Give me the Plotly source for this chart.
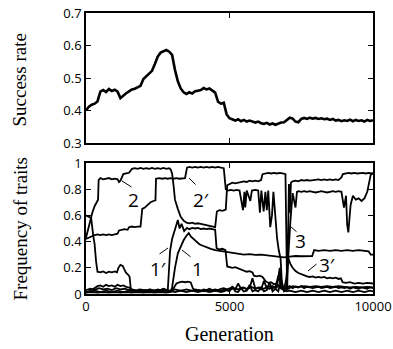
import plotly.graph_objects as go
from plotly.subplots import make_subplots

# ---------------- data ----------------
gen_grid = list(range(0, 10001, 100))

success_rate = [
    0.400, 0.412, 0.418, 0.421, 0.428, 0.458, 0.463, 0.457, 0.466, 0.460,
    0.464, 0.458, 0.438, 0.447, 0.453, 0.459, 0.465, 0.467, 0.471, 0.476,
    0.497, 0.505, 0.511, 0.522, 0.543, 0.566, 0.578, 0.583, 0.586, 0.581,
    0.571, 0.525, 0.490, 0.468, 0.456, 0.451, 0.456, 0.452, 0.459, 0.461,
    0.463, 0.469, 0.465, 0.468, 0.462, 0.455, 0.427, 0.421, 0.424, 0.388,
    0.376, 0.372, 0.369, 0.373, 0.367, 0.371, 0.366, 0.369, 0.365, 0.363,
    0.366, 0.361, 0.359, 0.362, 0.357, 0.360, 0.356, 0.360, 0.363, 0.364,
    0.372, 0.378, 0.375, 0.366, 0.364, 0.374, 0.377, 0.374, 0.378, 0.375,
    0.377, 0.374, 0.376, 0.373, 0.375, 0.371, 0.374, 0.369, 0.371, 0.367,
    0.370, 0.368, 0.372, 0.367, 0.371, 0.368, 0.370, 0.366, 0.371, 0.368,
    0.370]

trait_2 = [
    (0, 0.43), (80, 0.50), (150, 0.58), (220, 0.62), (300, 0.67), (380, 0.70), (420, 0.72),
    (440, 0.87), (500, 0.885), (600, 0.875), (700, 0.88), (800, 0.885), (900, 0.875),
    (1000, 0.88), (1100, 0.875), (1150, 0.855), (1200, 0.865), (1300, 0.915), (1400, 0.92),
    (1500, 0.925), (1600, 0.955), (1700, 0.96), (1800, 0.955), (1900, 0.962), (2000, 0.955),
    (2100, 0.96), (2200, 0.955), (2300, 0.962), (2400, 0.955), (2500, 0.96), (2600, 0.955),
    (2700, 0.962), (2800, 0.955), (2900, 0.96), (2950, 0.95), (3000, 0.92), (3050, 0.83),
    (3100, 0.72), (3200, 0.65), (3300, 0.59), (3400, 0.56), (3500, 0.545), (3600, 0.54),
    (3700, 0.545), (3800, 0.535), (3900, 0.54), (4000, 0.535), (4100, 0.53), (4200, 0.525),
    (4300, 0.52), (4400, 0.515), (4500, 0.51), (4560, 0.63), (4650, 0.64), (4750, 0.635),
    (4870, 0.645), (4920, 0.83), (5000, 0.84), (5100, 0.85), (5200, 0.845), (5300, 0.85),
    (5400, 0.855), (5500, 0.86), (5600, 0.855), (5700, 0.865), (5800, 0.86), (5900, 0.865),
    (6000, 0.86), (6100, 0.87), (6150, 0.915), (6250, 0.92), (6350, 0.925), (6450, 0.92),
    (6550, 0.925), (6650, 0.92), (6750, 0.925), (6850, 0.92), (6950, 0.915), (6990, 0.30),
    (7010, 0.03), (7040, 0.40), (7070, 0.84), (7100, 0.62), (7140, 0.85), (7200, 0.86),
    (7300, 0.865), (7400, 0.86), (7500, 0.87), (7600, 0.865), (7700, 0.87), (7800, 0.865),
    (7900, 0.87), (8000, 0.87), (8100, 0.875), (8200, 0.87), (8300, 0.875), (8400, 0.87),
    (8500, 0.875), (8600, 0.87), (8700, 0.875), (8800, 0.87), (8900, 0.89), (8950, 0.915),
    (9050, 0.92), (9150, 0.925), (9250, 0.92), (9350, 0.925), (9450, 0.92), (9550, 0.925),
    (9650, 0.925), (9750, 0.92), (9850, 0.925), (9950, 0.92), (10000, 0.925)]

trait_2p = [
    (0, 0.42), (100, 0.43), (200, 0.445), (300, 0.45), (400, 0.455), (500, 0.45), (600, 0.455),
    (700, 0.45), (800, 0.455), (900, 0.45), (1000, 0.455), (1100, 0.46), (1150, 0.485),
    (1250, 0.49), (1350, 0.495), (1450, 0.49), (1500, 0.51), (1600, 0.515), (1700, 0.51),
    (1800, 0.515), (1900, 0.515), (1960, 0.65), (2050, 0.66), (2150, 0.68), (2250, 0.70),
    (2350, 0.71), (2420, 0.715), (2440, 0.88), (2550, 0.885), (2650, 0.88), (2750, 0.885),
    (2850, 0.88), (2950, 0.885), (3050, 0.88), (3150, 0.885), (3250, 0.88), (3350, 0.885),
    (3450, 0.885), (3520, 0.965), (3600, 0.97), (3700, 0.965), (3800, 0.97), (3900, 0.965),
    (4000, 0.97), (4100, 0.965), (4200, 0.97), (4300, 0.965), (4400, 0.97), (4500, 0.965),
    (4600, 0.97), (4700, 0.965), (4800, 0.96), (4870, 0.80), (4950, 0.79), (5050, 0.795),
    (5150, 0.79), (5250, 0.795), (5350, 0.79), (5470, 0.64), (5520, 0.78), (5550, 0.66),
    (5600, 0.79), (5725, 0.71), (5780, 0.79), (5900, 0.795), (6000, 0.79), (6060, 0.62),
    (6110, 0.79), (6190, 0.63), (6250, 0.78), (6300, 0.64), (6350, 0.79), (6420, 0.51),
    (6480, 0.60), (6530, 0.78), (6600, 0.57), (6660, 0.42), (6720, 0.33), (6780, 0.27),
    (6830, 0.06), (6900, 0.02), (6980, 0.03), (7050, 0.30), (7120, 0.55), (7200, 0.77),
    (7300, 0.66), (7350, 0.78), (7400, 0.785), (7500, 0.78), (7600, 0.785), (7700, 0.78),
    (7800, 0.785), (7900, 0.78), (8000, 0.775), (8100, 0.78), (8200, 0.785), (8300, 0.78),
    (8400, 0.775), (8500, 0.78), (8600, 0.785), (8700, 0.78), (8800, 0.785), (8900, 0.78),
    (8990, 0.66), (9060, 0.75), (9100, 0.53), (9140, 0.47), (9180, 0.60), (9220, 0.68),
    (9300, 0.75), (9400, 0.72), (9500, 0.73), (9600, 0.71), (9700, 0.73), (9800, 0.78),
    (9920, 0.91), (10000, 0.92)]

trait_1p = [
    (0, 0.60), (100, 0.59), (180, 0.58), (250, 0.45), (300, 0.38), (350, 0.25), (400, 0.17),
    (500, 0.165), (600, 0.172), (700, 0.16), (800, 0.17), (900, 0.165), (1000, 0.172),
    (1080, 0.165), (1130, 0.20), (1200, 0.222), (1280, 0.215), (1330, 0.19), (1400, 0.16),
    (1480, 0.145), (1520, 0.13), (1560, 0.04), (1650, 0.03), (1750, 0.025), (1850, 0.035),
    (1950, 0.025), (2050, 0.03), (2150, 0.025), (2250, 0.035), (2350, 0.025), (2450, 0.03),
    (2550, 0.025), (2650, 0.035), (2750, 0.025), (2850, 0.03), (2880, 0.15), (2930, 0.33),
    (3000, 0.42), (3100, 0.50), (3200, 0.565), (3260, 0.50), (3330, 0.535), (3420, 0.48),
    (3520, 0.505), (3600, 0.495), (3700, 0.505), (3800, 0.50), (3900, 0.505), (4000, 0.495),
    (4100, 0.50), (4200, 0.495), (4300, 0.50), (4400, 0.495), (4500, 0.49), (4550, 0.35),
    (4650, 0.34), (4750, 0.345), (4860, 0.335), (4920, 0.21), (5000, 0.205), (5100, 0.20),
    (5200, 0.205), (5300, 0.195), (5400, 0.19), (5500, 0.175), (5600, 0.17), (5700, 0.175),
    (5800, 0.165), (5850, 0.14), (5950, 0.135), (6050, 0.14), (6150, 0.13), (6250, 0.10),
    (6350, 0.085), (6450, 0.09), (6550, 0.075), (6650, 0.08), (6750, 0.05), (6850, 0.04),
    (6950, 0.05), (7050, 0.04), (7200, 0.06), (7400, 0.055), (7600, 0.06), (7800, 0.055),
    (8000, 0.06), (8200, 0.055), (8400, 0.06), (8600, 0.055), (8800, 0.06), (9000, 0.055),
    (9200, 0.05), (9400, 0.055), (9600, 0.05), (9800, 0.055), (10000, 0.05)]

trait_1 = [
    (0, 0.01), (200, 0.015), (400, 0.01), (600, 0.015), (800, 0.01), (1000, 0.015),
    (1200, 0.01), (1400, 0.015), (1600, 0.01), (1800, 0.015), (2000, 0.01), (2200, 0.015),
    (2400, 0.01), (2600, 0.015), (2800, 0.01), (2950, 0.015), (3000, 0.05), (3100, 0.20),
    (3200, 0.31), (3300, 0.36), (3400, 0.41), (3500, 0.445), (3580, 0.465), (3650, 0.44),
    (3750, 0.42), (3850, 0.40), (3950, 0.38), (4050, 0.37), (4200, 0.355), (4350, 0.345),
    (4500, 0.335), (4650, 0.33), (4800, 0.32), (4950, 0.315), (5100, 0.31), (5300, 0.305),
    (5500, 0.30), (5700, 0.305), (5900, 0.298), (6100, 0.30), (6300, 0.295), (6500, 0.29),
    (6700, 0.285), (6900, 0.28), (7100, 0.285), (7300, 0.29), (7500, 0.288), (7700, 0.292),
    (7880, 0.29), (7950, 0.335), (8100, 0.33), (8300, 0.335), (8500, 0.33), (8700, 0.335),
    (8900, 0.33), (9100, 0.335), (9300, 0.33), (9500, 0.335), (9700, 0.33), (9850, 0.325),
    (9920, 0.30), (10000, 0.30)]

trait_3p = [
    (0, 0.03), (150, 0.04), (300, 0.03), (450, 0.045), (600, 0.035), (750, 0.04), (900, 0.03),
    (1050, 0.045), (1200, 0.035), (1350, 0.04), (1500, 0.03), (1650, 0.02), (1800, 0.025),
    (1950, 0.02), (2100, 0.03), (2250, 0.02), (2400, 0.025), (2550, 0.02), (2700, 0.03),
    (2850, 0.02), (3000, 0.025), (3080, 0.06), (3150, 0.08), (3250, 0.088), (3350, 0.095),
    (3450, 0.09), (3550, 0.095), (3650, 0.088), (3720, 0.045), (3800, 0.025), (3950, 0.03),
    (4100, 0.02), (4250, 0.03), (4400, 0.02), (4550, 0.03), (4700, 0.025), (4850, 0.035),
    (5000, 0.03), (5150, 0.045), (5300, 0.035), (5450, 0.05), (5600, 0.04), (5750, 0.055),
    (5900, 0.04), (6050, 0.05), (6200, 0.04), (6350, 0.06), (6500, 0.045), (6650, 0.05),
    (6750, 0.20), (6800, 0.04), (6900, 0.03), (6980, 0.12), (7040, 0.28), (7120, 0.23),
    (7200, 0.20), (7300, 0.175), (7400, 0.16), (7500, 0.15), (7600, 0.14), (7700, 0.135),
    (7800, 0.13), (7900, 0.135), (8000, 0.125), (8100, 0.13), (8200, 0.125), (8300, 0.13),
    (8400, 0.12), (8500, 0.125), (8600, 0.12), (8700, 0.125), (8800, 0.115), (8880, 0.12),
    (8940, 0.09), (9050, 0.085), (9200, 0.09), (9350, 0.08), (9500, 0.085), (9650, 0.08),
    (9800, 0.085), (10000, 0.08)]

trait_low_a = [
    0.01, 0.02, 0.03, 0.045, 0.06, 0.065, 0.055, 0.07, 0.06, 0.065,
    0.055, 0.07, 0.06, 0.065, 0.055, 0.05, 0.025, 0.03, 0.025, 0.035,
    0.03, 0.025, 0.035, 0.03, 0.025, 0.035, 0.03, 0.04, 0.03, 0.025,
    0.03, 0.035, 0.03, 0.025, 0.03, 0.035, 0.03, 0.025, 0.035, 0.03,
    0.025, 0.035, 0.03, 0.04, 0.03, 0.035, 0.03, 0.04, 0.045, 0.035,
    0.04, 0.05, 0.035, 0.08, 0.04, 0.05, 0.035, 0.045, 0.12, 0.04,
    0.05, 0.035, 0.10, 0.045, 0.04, 0.06, 0.05, 0.14, 0.06, 0.04,
    0.05, 0.06, 0.045, 0.055, 0.05, 0.06, 0.045, 0.055, 0.05, 0.045,
    0.05, 0.055, 0.045, 0.05, 0.055, 0.045, 0.05, 0.055, 0.045, 0.05,
    0.045, 0.05, 0.04, 0.05, 0.045, 0.04, 0.05, 0.045, 0.04, 0.05,
    0.045]

trait_low_b = [
    0.02, 0.015, 0.02, 0.025, 0.02, 0.015, 0.02, 0.025, 0.02, 0.015,
    0.02, 0.025, 0.02, 0.015, 0.02, 0.025, 0.02, 0.015, 0.02, 0.025,
    0.02, 0.015, 0.02, 0.025, 0.02, 0.015, 0.02, 0.025, 0.02, 0.015,
    0.02, 0.015, 0.02, 0.025, 0.02, 0.015, 0.02, 0.025, 0.02, 0.015,
    0.02, 0.025, 0.02, 0.015, 0.02, 0.025, 0.02, 0.015, 0.02, 0.03,
    0.02, 0.06, 0.02, 0.015, 0.045, 0.02, 0.025, 0.07, 0.02, 0.03,
    0.02, 0.05, 0.02, 0.03, 0.09, 0.02, 0.04, 0.02, 0.11, 0.03,
    0.02, 0.025, 0.02, 0.015, 0.02, 0.025, 0.02, 0.015, 0.02, 0.025,
    0.02, 0.015, 0.02, 0.025, 0.02, 0.015, 0.02, 0.025, 0.02, 0.015,
    0.02, 0.025, 0.02, 0.015, 0.02, 0.025, 0.02, 0.015, 0.02, 0.025,
    0.02]

# labels: (text, text gen, text value, tip gen, tip value, leader dx px, leader dy px)
trait_labels = [
    ("2", 1672, 0.718, 1254, 0.863, 11, 7),
    ("2\u2032", 4007, 0.718, 3589, 0.885, 8, 8),
    ("1\u2032", 2509, 0.191, 2857, 0.351, -10, 7),
    ("1", 3868, 0.191, 3345, 0.336, 10, 8),
    ("3", 7491, 0.405, 7108, 0.519, 8, 7),
    ("3\u2032", 8397, 0.221, 7735, 0.176, 10, -8),
]

x_ticks = [0, 5000, 10000]
y_ticks_top = [0.3, 0.4, 0.5, 0.6, 0.7]
y_ticks_bottom = [0, 0.2, 0.4, 0.6, 0.8, 1]
y_ticklabels_bottom = ["0", "0.2", "0.4", "0.6", "0.8", "1"]

# ---------------- figure ----------------
W, H = 393, 349
left_m, right_m, top_m, bot_m = 86, 20, 13, 55
plot_h = H - top_m - bot_m
plot_w = W - left_m - right_m
fig = make_subplots(rows=2, cols=1, shared_xaxes=False, vertical_spacing=0.0)

fig.add_trace(go.Scatter(x=gen_grid, y=success_rate, mode="lines",
                         line=dict(color="black", width=2.6), showlegend=False), row=1, col=1)

for pts in [trait_2, trait_2p, trait_1p, trait_1, trait_3p]:
    fig.add_trace(go.Scatter(x=[p[0] for p in pts], y=[p[1] for p in pts], mode="lines",
                             line=dict(color="black", width=1.8), showlegend=False), row=2, col=1)
for vals in [trait_low_a, trait_low_b]:
    fig.add_trace(go.Scatter(x=gen_grid, y=vals, mode="lines",
                             line=dict(color="black", width=1.8), showlegend=False), row=2, col=1)

tick_font = dict(family="Open Sans", size=13, color="black")
axis_common = dict(showline=True, linecolor="black", linewidth=1.5, mirror="ticks",
                   ticks="inside", ticklen=5, tickwidth=1, tickcolor="black",
                   showgrid=False, zeroline=False, tickfont=tick_font, automargin=False,
                   ticklabeloverflow="allow")

top_dom = [151 / plot_h, 1.0]
bot_dom = [0.0, 131 / plot_h]

fig.update_xaxes(range=[0, 10000], tickvals=x_ticks, showticklabels=False,
                 domain=[0, 1], **axis_common, row=1, col=1)
fig.update_xaxes(range=[0, 10000], tickvals=x_ticks, ticktext=[str(v) for v in x_ticks],
                 domain=[0, 1], **axis_common, row=2, col=1)
fig.update_yaxes(range=[0.3, 0.7], tickvals=y_ticks_top,
                 ticktext=[f"{v:.1f}" for v in y_ticks_top], domain=top_dom,
                 **axis_common, row=1, col=1)
fig.update_yaxes(range=[0, 1], tickvals=y_ticks_bottom, ticktext=y_ticklabels_bottom,
                 domain=bot_dom, **axis_common, row=2, col=1)

serif = dict(family="Liberation Serif", size=19, color="black")
ann = [
    dict(text="Success rate", xref="paper", yref="paper", x=(18.5 - 86) / plot_w,
         y=(top_dom[0] + top_dom[1]) / 2 - 2 / plot_h, textangle=-90, showarrow=False,
         font=serif, xanchor="center", yanchor="middle"),
    dict(text="Frequency of traits", xref="paper", yref="paper", x=(20 - 86) / plot_w,
         y=(bot_dom[0] + bot_dom[1]) / 2, textangle=-90, showarrow=False, font=serif,
         xanchor="center", yanchor="middle"),
    dict(text="Generation", xref="paper", yref="paper", x=0.5, y=-(334 - 294) / plot_h,
         showarrow=False, font=dict(family="Liberation Serif", size=20, color="black"),
         xanchor="center", yanchor="middle"),
]
for text, tx, ty, px_, py_, dx, dy in trait_labels:
    ann.append(dict(text=text, x=tx, y=ty, xref="x2", yref="y2", showarrow=False,
                    font=dict(family="Open Sans", size=19, color="black"),
                    xanchor="center", yanchor="middle"))
    ann.append(dict(text="", x=px_, y=py_, xref="x2", yref="y2", showarrow=True,
                    ax=dx, ay=dy, arrowhead=0, arrowwidth=1, arrowcolor="black"))

fig.update_layout(template="none", width=W, height=H,
                  margin=dict(l=left_m, r=right_m, t=top_m, b=bot_m, autoexpand=False),
                  paper_bgcolor="white", plot_bgcolor="white", annotations=ann)

# remove the browser's default 8px body margin so the figure sits at the window origin
fig.write_html("out.html",
               config={"displayModeBar": False},
               post_script="document.body.style.margin='0px';"
                           "document.documentElement.style.overflow='hidden';"
                           "document.body.style.overflow='hidden';")
